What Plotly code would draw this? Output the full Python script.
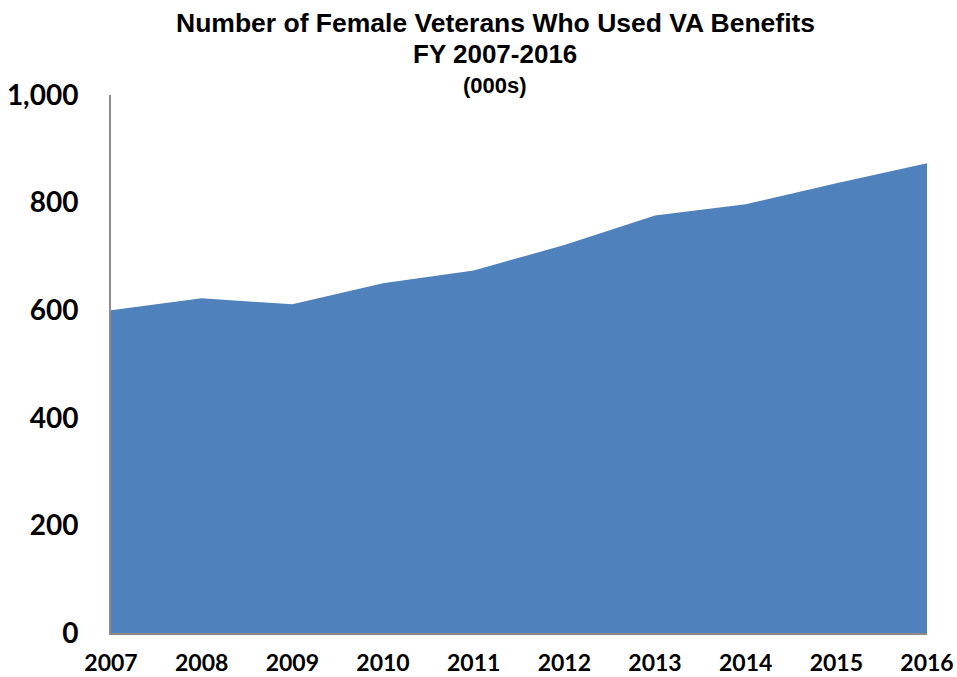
import plotly.graph_objects as go

years = [2007, 2008, 2009, 2010, 2011, 2012, 2013, 2014, 2015, 2016]
veterans_000s = [600, 622, 611, 650, 674, 721, 776, 797, 836, 873]
y_ticks = [0, 200, 400, 600, 800, 1000]
y_tick_labels = ["0", "200", "400", "600", "800", "1,000"]
title_lines = ["Number of Female Veterans Who Used VA Benefits", "FY 2007-2016", "(000s)"]

W, H = 957, 677
L, R, T, B = 111, 927, 95, 633

fig = go.Figure()
fig.add_trace(go.Scatter(
    x=years, y=veterans_000s, mode="lines", fill="tozeroy",
    line=dict(color="#4F81BD", width=0), fillcolor="#4F81BD",
    hoverinfo="x+y", showlegend=False,
))

title_font = "Liberation Sans, Arial, sans-serif"
tick_font = "Lato, Open Sans, sans-serif"
ann_y = [23, 54, 85]
ann_size = [26.5, 26, 22]
for txt, yy, sz in zip(title_lines, ann_y, ann_size):
    fig.add_annotation(
        text="<b>%s</b>" % txt, xref="paper", yref="paper",
        x=(495 - L) / (R - L), y=(B - yy) / (B - T),
        xanchor="center", yanchor="middle", showarrow=False,
        font=dict(family=title_font, size=sz, color="black"),
    )

fig.update_layout(
    width=W, height=H,
    margin=dict(l=L, r=W - R, t=T, b=H - B, pad=0),
    paper_bgcolor="white", plot_bgcolor="white",
    xaxis=dict(
        range=[2007, 2016], tickmode="array", tickvals=years,
        ticktext=[str(y) for y in years], showgrid=False, zeroline=False,
        showline=True, linecolor="#8c8c8c", linewidth=2, ticks="",
        tickfont=dict(family=tick_font, size=23, color="black", weight="bold"),
        ticklabelstandoff=8, automargin=False, fixedrange=True,
    ),
    yaxis=dict(
        range=[0, 1000], tickmode="array", tickvals=y_ticks, ticktext=y_tick_labels,
        showgrid=False, zeroline=False, showline=True, linecolor="#8c8c8c",
        linewidth=2, ticks="",
        tickfont=dict(family=tick_font, size=28, color="black", weight="bold"),
        ticklabelstandoff=25, automargin=False, fixedrange=True,
    ),
)

fig.write_html(
    "out.html",
    config={"displayModeBar": False},
    post_script="document.body.style.margin='0';document.body.style.overflow='hidden';",
)
